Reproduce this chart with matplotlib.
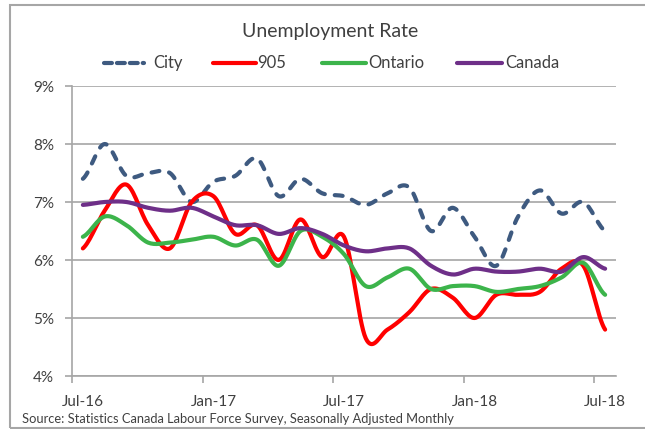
import numpy as np
import matplotlib
matplotlib.use("Agg")
import matplotlib.pyplot as plt
from matplotlib.lines import Line2D
from matplotlib.patches import Rectangle

# Monthly unemployment rate (%), Jul-16 .. Jul-18
months = ["Jul-16", "Aug-16", "Sep-16", "Oct-16", "Nov-16", "Dec-16",
          "Jan-17", "Feb-17", "Mar-17", "Apr-17", "May-17", "Jun-17",
          "Jul-17", "Aug-17", "Sep-17", "Oct-17", "Nov-17", "Dec-17",
          "Jan-18", "Feb-18", "Mar-18", "Apr-18", "May-18", "Jun-18",
          "Jul-18"]
tick_labels = ["Jul-16", "Jan-17", "Jul-17", "Jan-18", "Jul-18"]

city = [7.4, 8.0, 7.45, 7.5, 7.5, 7.0, 7.35, 7.45, 7.75, 7.1, 7.4, 7.15,
        7.1, 6.95, 7.15, 7.25, 6.5, 6.9, 6.4, 5.9, 6.75, 7.2, 6.8, 7.0, 6.5]
r905 = [6.2, 6.85, 7.3, 6.6, 6.2, 7.0, 7.1, 6.45, 6.6, 6.0, 6.7, 6.05,
        6.4, 4.65, 4.8, 5.1, 5.5, 5.35, 5.0, 5.4, 5.4, 5.45, 5.85, 5.9, 4.8]
ontario = [6.4, 6.75, 6.6, 6.3, 6.3, 6.35, 6.4, 6.25, 6.35, 5.9, 6.5, 6.4,
           6.1, 5.55, 5.7, 5.85, 5.5, 5.55, 5.55, 5.45, 5.5, 5.55, 5.7, 5.95, 5.4]
canada = [6.95, 7.0, 7.0, 6.9, 6.85, 6.9, 6.75, 6.6, 6.6, 6.45, 6.55, 6.45,
          6.25, 6.15, 6.2, 6.2, 5.9, 5.75, 5.85, 5.8, 5.8, 5.85, 5.8, 6.05, 5.85]

W, H = 645, 429
TXT = "#404040"
GRID = "#a6a6a6"
plt.rcParams["font.family"] = ["Lato", "DejaVu Sans"]


def smooth(vals, n=16):
    # Catmull-Rom curve through the monthly points (Excel style smoothed line)
    y = np.asarray(vals, float)
    p = np.r_[y[0], y, y[-1]]
    t = np.linspace(0, 1, n, endpoint=False)
    xs, ys = [], []
    for i in range(len(y) - 1):
        p0, p1, p2, p3 = p[i], p[i + 1], p[i + 2], p[i + 3]
        seg = 0.5 * (2 * p1 + (p2 - p0) * t
                     + (2 * p0 - 5 * p1 + 4 * p2 - p3) * t ** 2
                     + (3 * p1 - p0 - 3 * p2 + p3) * t ** 3)
        xs.append(i + t)
        ys.append(seg)
    xs.append([len(y) - 1])
    ys.append([y[-1]])
    return np.concatenate(xs), np.concatenate(ys)


def fx(px):
    return px / W


def fy(py):
    return 1 - py / H


fig = plt.figure(figsize=(W / 100, H / 100), dpi=100)
ax = fig.add_axes([fx(72), fy(376), fx(616) - fx(72), fy(86) - fy(376)])

series = [
    ("City", city, "#3e5a80", "--"),
    ("905", r905, "#ff0000", "-"),
    ("Ontario", ontario, "#3cb44b", "-"),
    ("Canada", canada, "#6e2f88", "-"),
]

for name, vals, col, ls in series:
    x, y = smooth(vals)
    line, = ax.plot(x, y, color=col, lw=3, solid_capstyle="round",
                    dash_capstyle="round")
    if ls == "--":
        line.set_dashes((1.9, 2.4))

ax.set_xlim(-0.5, len(months) - 0.5)
ax.set_ylim(4, 9)
ax.set_yticks(range(4, 10))
ax.set_yticklabels([f"{v}%" for v in range(4, 10)])
ax.yaxis.grid(True, color=GRID, lw=1.2)
ax.set_axisbelow(True)

pos = [months.index(m) for m in tick_labels]
ax.set_xticks(pos)
ax.set_xticklabels(tick_labels)
ax.set_xticks([p - 0.5 for p in pos], minor=True)
ax.tick_params(axis="x", which="major", length=0, pad=14, labelsize=11, labelcolor=TXT)
ax.tick_params(axis="x", which="minor", length=5, color=GRID, width=1.2)
ax.tick_params(axis="y", length=5, color=GRID, width=1.2, pad=8, labelsize=11, labelcolor=TXT)

for s in ["top", "right"]:
    ax.spines[s].set_visible(False)
for s in ["left", "bottom"]:
    ax.spines[s].set_color(GRID)
    ax.spines[s].set_linewidth(1.2)

# title and legend drawn by hand in figure pixels
fig.text(fx(330), fy(31), "Unemployment Rate", ha="center", va="center",
         fontsize=14, color=TXT)

legend_pos = [(104, 144, 153), (213, 256, 257), (322, 366, 368), (457, 502, 505)]
for (name, vals, col, ls), (x0, x1, tx) in zip(series, legend_pos):
    lg = Line2D([fx(x0), fx(x1)], [fy(63), fy(63)], transform=fig.transFigure,
                color=col, lw=3, solid_capstyle="round", dash_capstyle="round")
    if ls == "--":
        lg.set_dashes((1.9, 1.2))
    fig.add_artist(lg)
    fig.text(fx(tx), fy(63), name, ha="left", va="center", fontsize=12, color=TXT)

fig.text(fx(22), fy(419), "Source: Statistics Canada Labour Force Survey, Seasonally Adjusted Monthly",
         ha="left", va="center", fontsize=9.3, color=TXT)

fig.add_artist(Rectangle((fx(10), fy(428)), 1.0, fy(5) - fy(428), transform=fig.transFigure,
                         fill=False, edgecolor=GRID, lw=1.5))

fig.savefig("out.png", dpi=100)
